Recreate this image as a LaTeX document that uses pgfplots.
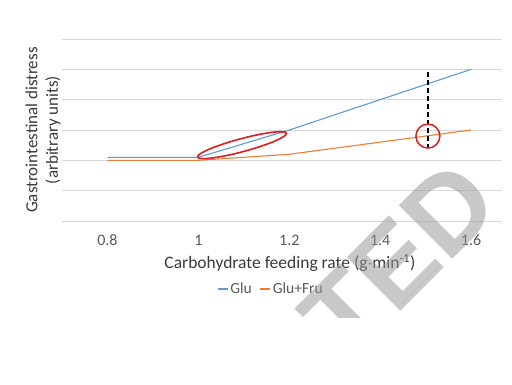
\documentclass[border=0pt]{standalone}
\usepackage{fontspec}
\setmainfont{Carlito}
\newfontfamily\wmfont{Liberation Sans}
\usepackage{pgfplots}
\pgfplotsset{compat=1.18}
\usetikzlibrary{shapes.geometric}
\definecolor{gluC}{HTML}{5B9BD5}
\definecolor{fruC}{HTML}{ED7D31}
\definecolor{gridC}{HTML}{D9D9D9}
\definecolor{tickC}{HTML}{595959}
\definecolor{titleC}{HTML}{3A3A3A}
\definecolor{annC}{HTML}{E21B1B}
\definecolor{wmC}{HTML}{969696}
\begin{document}
\begin{tikzpicture}[x=1pt,y=1pt]
\useasboundingbox (0,0) rectangle (512,384);
\begin{axis}[
  at={(62pt,163pt)}, anchor=south west,
  scale only axis, width=440pt, height=182pt,
  xmin=0.7, xmax=1.668, ymin=0, ymax=6,
  axis line style={draw=none},
  tick style={draw=none},
  ytick={0,1,2,3,4,5,6}, yticklabels={},
  ymajorgrids, grid style={gridC, line width=0.9pt},
  xtick={0.8,1,1.2,1.4,1.6},
  xticklabels={0.8,1,1.2,1.4,1.6},
  xticklabel style={font=\fontsize{16}{19}\selectfont, text=tickC, anchor=center, yshift=-19pt},
  /pgf/number format/assume math mode=true,
  xlabel={Carbohydrate feeding rate (g$\cdot$min\textsuperscript{-1})},
  xlabel style={at={(axis description cs:0.518,0)}, anchor=center, yshift=-42pt,
    font=\fontsize{17.5}{21}\selectfont, text=titleC},
  ylabel={Gastrointestinal distress\\(arbitrary units)},
  ylabel style={at={(axis description cs:-0.043,0.5)}, anchor=center, align=center,
    font=\fontsize{17}{20.5}\selectfont, text=titleC},
  legend columns=2,
  legend style={at={(axis description cs:0.475,0)}, anchor=center, yshift=-68pt,
    draw=none, font=\fontsize{15.5}{18}\selectfont, text=tickC,
    /tikz/every even column/.append style={column sep=6pt},
    inner sep=0pt},
  legend image code/.code={\draw[#1, line width=1.1pt] (0pt,0pt) -- (10pt,0pt);},
  clip=false,
]
\addplot[gluC, line width=1.1pt] coordinates {(0.8,2.1) (1.0,2.1) (1.2,3.0) (1.4,4.0) (1.6,5.0)};
\addlegendentry{Glu}
\addplot[fruC, line width=1.1pt] coordinates {(0.8,2.0) (1.0,2.0) (1.2,2.2) (1.4,2.6) (1.6,3.0)};
\addlegendentry{Glu+Fru}
\addplot[black, line width=1.6pt, dash pattern=on 5pt off 3pt, forget plot] coordinates {(1.505,4.92) (1.505,2.44)};
\node[draw=annC, line width=1.5pt, circle, minimum size=24pt, inner sep=0pt] at (axis cs:1.505,2.8) {};
\node[draw=annC, line width=1.6pt, ellipse, rotate=15, minimum width=92pt, minimum height=13pt, inner sep=0pt] at (axis cs:1.096,2.5) {};
\end{axis}
\begin{scope}
\clip (0,67) rectangle (512,384);
\node[rotate=45, inner sep=0pt, anchor=center, text=wmC, text opacity=0.52,
  font=\wmfont\bfseries\fontsize{110}{110}\selectfont] at (399,125) {TED};
\end{scope}
\end{tikzpicture}
\end{document}
